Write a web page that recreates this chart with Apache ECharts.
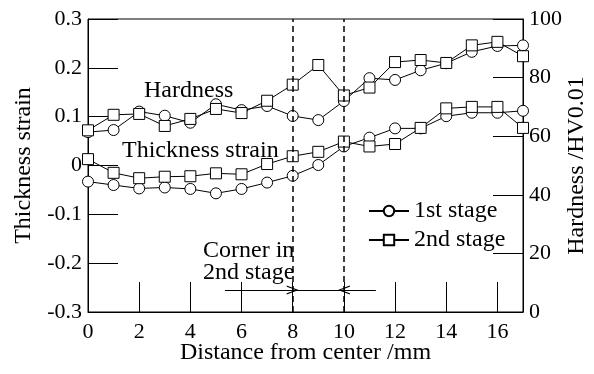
<!DOCTYPE html>
<html>
<head>
<meta charset="utf-8">
<script src="https://cdn.jsdelivr.net/npm/echarts@6/dist/echarts.min.js"></script>
<style>
  html, body { margin: 0; padding: 0; background: #fff; }
  #chart { width: 594px; height: 374px; }
</style>
</head>
<body>
<div id="chart"></div>
<script>
// distance from center (mm)
const distance = [0, 1, 2, 3, 4, 5, 6, 7, 8, 9, 10, 11, 12, 13, 14, 15, 16, 17];

// hardness HV0.01 (right axis)
const hardness1st = [61.4, 62.1, 68.4, 67.0, 64.6, 70.9, 68.9, 70.3, 66.9, 65.5, 72.0, 79.8, 79.2, 82.5, 84.9, 88.8, 90.8, 91.0];
const hardness2nd = [62.0, 67.3, 67.6, 63.5, 65.9, 69.3, 67.9, 72.1, 77.6, 84.3, 73.9, 76.6, 85.3, 86.0, 85.0, 91.0, 92.2, 87.3];

// thickness strain (left axis)
const strain1st = [-0.033, -0.040, -0.047, -0.045, -0.048, -0.057, -0.048, -0.035, -0.021, 0.001, 0.039, 0.057, 0.076, 0.076, 0.101, 0.108, 0.108, 0.112];
const strain2nd = [0.013, -0.015, -0.026, -0.023, -0.022, -0.016, -0.018, 0.003, 0.019, 0.028, 0.049, 0.039, 0.044, 0.077, 0.117, 0.120, 0.120, 0.077];

// corner of the 2nd stage, with the arrows pointing at it
const cornerLines = [8, 10];
const arrowLevel = -0.255;
const arrowTails = [5.35, 11.25];

const FONT = 'Liberation Serif';

function pairs(ys) {
  return distance.map((x, i) => [x, ys[i]]);
}

const chevron = 'path://M0,10 L5,0 L10,10 L8.6,10 L5,2.6 L1.4,10 Z';

const chart = echarts.init(document.getElementById('chart'), null, { renderer: 'canvas' });

const baseSeries = {
  type: 'line',
  symbolSize: 11,
  showSymbol: true,
  lineStyle: { color: '#000', width: 1 },
  itemStyle: { color: '#fff', borderColor: '#000', borderWidth: 1 },
  animation: false,
  z: 3
};

chart.setOption({
  animation: false,
  backgroundColor: '#fff',
  textStyle: { fontFamily: FONT, color: '#000' },
  grid: {
    left: 88, right: 71, top: 19, bottom: 62,
    outerBoundsMode: 'none', containLabel: false,
    show: true, borderColor: '#000', borderWidth: 1, backgroundColor: 'transparent'
  },
  legend: {
    orient: 'vertical',
    left: 368, top: 199, padding: 0,
    itemWidth: 40, itemHeight: 13, itemGap: 5,
    textStyle: { fontFamily: FONT, fontSize: 24, lineHeight: 24, color: '#000' },
    data: ['1st stage', '2nd stage']
  },
  xAxis: {
    type: 'value', min: 0, max: 17, interval: 2,
    name: 'Distance from center /mm', nameLocation: 'middle', nameGap: 29, nameMoveOverlap: false,
    nameTextStyle: { fontFamily: FONT, fontSize: 24, color: '#000' },
    axisLine: { onZero: false, lineStyle: { color: '#000', width: 1 } },
    axisTick: { inside: true, length: 30, lineStyle: { color: '#000', width: 1 } },
    axisLabel: { fontFamily: FONT, fontSize: 22, color: '#000', margin: 9, showMaxLabel: false },
    splitLine: { show: false }
  },
  yAxis: [
    {
      type: 'value', position: 'left', min: -0.3, max: 0.3, interval: 0.1,
      name: 'Thickness strain', nameLocation: 'middle', nameGap: 52, nameRotate: 90, nameMoveOverlap: false,
      nameTextStyle: { fontFamily: FONT, fontSize: 24, color: '#000' },
      axisLine: { show: true, onZero: false, lineStyle: { color: '#000', width: 1 } },
      axisTick: { inside: true, length: 30, lineStyle: { color: '#000', width: 1 } },
      axisLabel: {
        fontFamily: FONT, fontSize: 22, color: '#000', margin: 6,
        formatter: v => String(+v.toFixed(1))
      },
      splitLine: { show: false }
    },
    {
      type: 'value', position: 'right', min: 0, max: 100, interval: 20,
      name: 'Hardness /HV0.01', nameLocation: 'middle', nameGap: 42, nameRotate: 90, nameMoveOverlap: false,
      nameTextStyle: { fontFamily: FONT, fontSize: 24, color: '#000' },
      axisLine: { show: true, onZero: false, lineStyle: { color: '#000', width: 1 } },
      axisTick: { inside: true, length: 30, lineStyle: { color: '#000', width: 1 } },
      axisLabel: { fontFamily: FONT, fontSize: 22, color: '#000', margin: 6 },
      splitLine: { show: false }
    }
  ],
  series: [
    Object.assign({}, baseSeries, {
      name: '1st stage', symbol: 'circle', yAxisIndex: 1, data: pairs(hardness1st)
    }),
    Object.assign({}, baseSeries, {
      name: '1st stage', symbol: 'circle', yAxisIndex: 0, data: pairs(strain1st),
      markLine: {
        silent: true, symbol: 'none', label: { show: false },
        lineStyle: { color: '#000', width: 1.5, type: [6, 4] },
        data: cornerLines.map(x => ({ xAxis: x }))
      }
    }),
    Object.assign({}, baseSeries, {
      name: '2nd stage', symbol: 'rect', yAxisIndex: 1, data: pairs(hardness2nd)
    }),
    Object.assign({}, baseSeries, {
      name: '2nd stage', symbol: 'rect', yAxisIndex: 0, data: pairs(strain2nd),
      markLine: {
        silent: true, label: { show: false },
        symbol: ['none', chevron], symbolSize: [9, 12],
        lineStyle: { color: '#000', width: 1, type: 'solid' },
        itemStyle: { color: '#000' },
        data: [
          [{ coord: [arrowTails[0], arrowLevel] }, { coord: [cornerLines[0], arrowLevel] }],
          [{ coord: [arrowTails[1], arrowLevel] }, { coord: [cornerLines[1], arrowLevel] }],
          [{ coord: [cornerLines[0], arrowLevel], symbol: 'none' }, { coord: [cornerLines[1], arrowLevel], symbol: 'none' }]
        ]
      }
    })
  ],
  graphic: [
    { type: 'text', left: 144, top: 79, style: { text: 'Hardness', fontFamily: FONT, fontSize: 24, fill: '#000' } },
    { type: 'text', left: 122, top: 139, style: { text: 'Thickness strain', fontFamily: FONT, fontSize: 24, fill: '#000' } },
    { type: 'text', left: 203, top: 239, style: { text: 'Corner in\n2nd stage', fontFamily: FONT, fontSize: 24, lineHeight: 22, fill: '#000' } }
  ]
});
</script>
</body>
</html>
